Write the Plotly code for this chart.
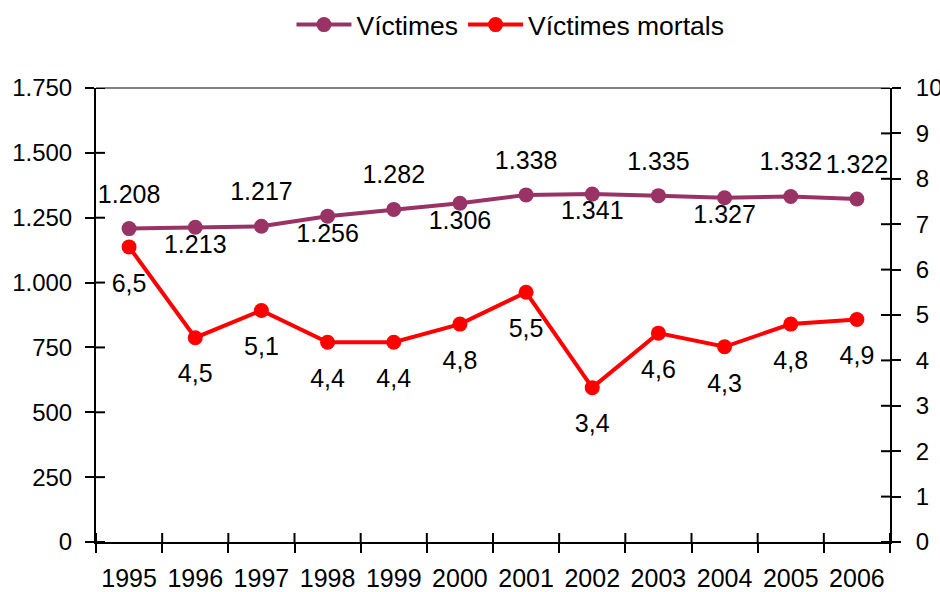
import plotly.graph_objects as go

years = ["1995", "1996", "1997", "1998", "1999", "2000", "2001", "2002", "2003", "2004", "2005", "2006"]
victimes = [1208, 1213, 1217, 1256, 1282, 1306, 1338, 1341, 1335, 1327, 1332, 1322]
mortals = [6.5, 4.5, 5.1, 4.4, 4.4, 4.8, 5.5, 3.4, 4.6, 4.3, 4.8, 4.9]
# label placement for Víctimes: "a" = above, "b" = below
victimes_label_pos = ["a", "b", "a", "b", "a", "b", "a", "b", "a", "b", "a", "a"]
left_ticks = [0, 250, 500, 750, 1000, 1250, 1500, 1750]
right_ticks = [0, 1, 2, 3, 4, 5, 6, 7, 8, 9, 10]

PURPLE = "#993366"
RED = "#FF0000"
FONT = "Liberation Sans, Arial, sans-serif"
TL = 9  # tick half-length (ticks cross the axis)
label_font = dict(family=FONT, size=25, color="black")
CLEAR = "rgba(0,0,0,0)"

fig = go.Figure()
fig.add_trace(go.Scatter(
    x=years, y=victimes, name="Víctimes", mode="lines+markers",
    line=dict(color=PURPLE, width=4), marker=dict(color=PURPLE, size=15),
    xaxis="x", yaxis="y"))
fig.add_trace(go.Scatter(
    x=years, y=mortals, name="Víctimes mortals", mode="lines+markers",
    line=dict(color=RED, width=4), marker=dict(color=RED, size=15),
    xaxis="x", yaxis="y2"))

# data labels (text offset from the point by an invisible marker's radius)
fig.add_trace(go.Scatter(
    x=years, y=victimes, mode="markers+text", showlegend=False, hoverinfo="skip",
    text=[f"{v:,}".replace(",", ".") for v in victimes],
    textposition=["top center" if p == "a" else "bottom center" for p in victimes_label_pos],
    marker=dict(color=CLEAR, size=[30 if p == "a" else 9 for p in victimes_label_pos],
                line=dict(width=0, color=CLEAR)),
    textfont=label_font, cliponaxis=False, xaxis="x", yaxis="y"))
fig.add_trace(go.Scatter(
    x=years, y=mortals, mode="markers+text", showlegend=False, hoverinfo="skip",
    text=[f"{v}".replace(".", ",") for v in mortals],
    textposition="bottom center",
    marker=dict(color=CLEAR, size=40, line=dict(width=0, color=CLEAR)),
    textfont=label_font, cliponaxis=False, xaxis="x", yaxis="y2"))

# inner halves of the crossing tick marks
tick_line = dict(color="black", width=2)
shapes = [dict(type="line", xref="paper", yref="paper", x0=0, x1=1, y0=1, y1=1,
               line=dict(color="#808080", width=2), layer="below")]
for i in range(len(years) + 1):
    shapes.append(dict(type="line", xref="x", yref="y", x0=i - 0.5, x1=i - 0.5,
                       ysizemode="pixel", yanchor=0, y0=0, y1=TL, line=tick_line))
for t in left_ticks:
    shapes.append(dict(type="line", xref="paper", yref="y", y0=t, y1=t,
                       xsizemode="pixel", xanchor=0, x0=0, x1=TL, line=tick_line))
for t in right_ticks:
    shapes.append(dict(type="line", xref="paper", yref="y2", y0=t, y1=t,
                       xsizemode="pixel", xanchor=1, x0=-TL, x1=0, line=tick_line))

tickfont = dict(family=FONT, size=24, color="black")
common_y = dict(showgrid=False, zeroline=False, showline=True, linecolor="black",
                linewidth=2, tickcolor="black", tickwidth=2, ticklen=TL,
                ticks="outside", automargin=False, tickfont=tickfont)

fig.update_layout(
    width=940, height=592,
    margin=dict(l=96, r=50, t=88, b=50, autoexpand=False),
    paper_bgcolor="white", plot_bgcolor="white",
    separators=",.",
    font=dict(family=FONT, size=24, color="black"),
    showlegend=True,
    legend=dict(orientation="h", x=0.522, xanchor="center", y=1.139, yanchor="middle",
                font=dict(family=FONT, size=26.5, color="black"), itemwidth=55,
                bgcolor="rgba(0,0,0,0)"),
    xaxis=dict(type="category", tickson="boundaries", ticks="outside", ticklen=TL,
               tickwidth=2, tickcolor="black", showline=True, linecolor="black",
               linewidth=2, showgrid=False, zeroline=False, tickangle=0,
               tickfont=dict(family=FONT, size=25, color="black"),
               range=[-0.5, 11.5], automargin=False, ticklabelstandoff=13),
    yaxis=dict(range=[0, 1750], tickmode="array", tickvals=left_ticks,
               separatethousands=True, ticklabelstandoff=8, **common_y),
    yaxis2=dict(range=[0, 10], tickmode="array", tickvals=right_ticks, side="right",
                overlaying="y", anchor="x", ticklabelstandoff=10, **common_y),
    shapes=shapes,
)

fig.write_html("out.html", config={"displayModeBar": False},
               post_script="document.body.style.margin='0';document.body.style.padding='0';")
